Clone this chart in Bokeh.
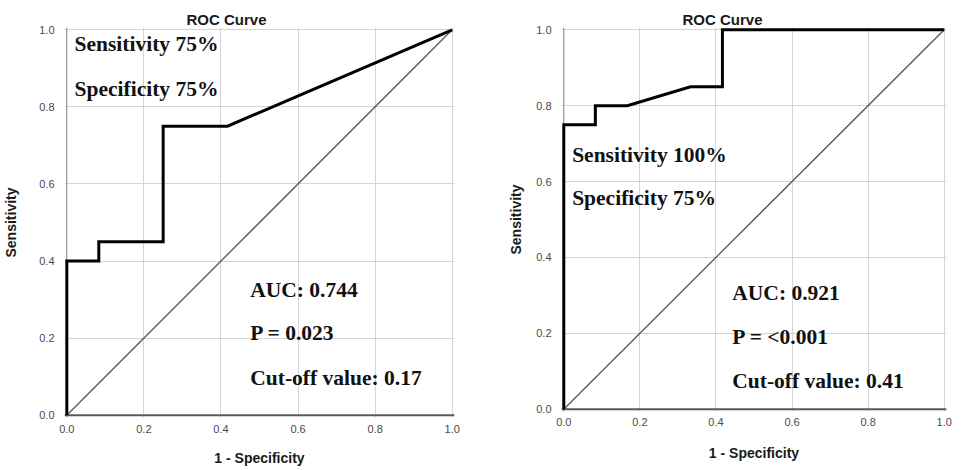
from bokeh.plotting import figure
from bokeh.layouts import row
from bokeh.models import Label, FixedTicker, PrintfTickFormatter, Range1d, Span
from bokeh.embed import file_html
from bokeh.resources import INLINE

# ---- data ----
ticks = [0.0, 0.2, 0.4, 0.6, 0.8, 1.0]
tick_labels = ["0.0", "0.2", "0.4", "0.6", "0.8", "1.0"]

ref_x = [0.0, 1.0]
ref_y = [0.0, 1.0]

left_fpr = [0.0, 0.0, 0.083, 0.083, 0.25, 0.25, 0.417, 1.0]
left_tpr = [0.0, 0.40, 0.40, 0.45, 0.45, 0.75, 0.75, 1.0]

right_fpr = [0.0, 0.0, 0.083, 0.083, 0.167, 0.333, 0.417, 0.417, 1.0]
right_tpr = [0.0, 0.75, 0.75, 0.80, 0.80, 0.85, 0.85, 1.0, 1.0]

title_text = "ROC Curve"
x_title = "1 - Specificity"
y_title = "Sensitivity"

left_notes = ["Sensitivity 75%", "Specificity 75%", "AUC: 0.744", "P = 0.023", "Cut-off value: 0.17"]
right_notes = ["Sensitivity 100%", "Specificity 75%", "AUC: 0.921", "P = <0.001", "Cut-off value: 0.41"]

PAD = 0.006


def make_panel(fpr, tpr, notes, note_pos, frame_w, frame_h, borders,
               title_offset, xt_stand, xl_stand, yt_stand, yl_stand):
    bl, br, bt, bb = borders
    p = figure(frame_width=frame_w, frame_height=frame_h,
               x_range=Range1d(-PAD, 1 + PAD), y_range=Range1d(-PAD, 1 + PAD),
               output_backend="svg", toolbar_location=None,
               min_border_left=bl, min_border_right=br,
               min_border_top=bt, min_border_bottom=bb)
    p.outline_line_color = None
    p.background_fill_color = "white"
    p.border_fill_color = "white"

    p.title.text = title_text
    p.title.align = "left"
    p.title.offset = title_offset
    p.title.standoff = 0
    p.title.text_font = "Liberation Sans"
    p.title.text_font_size = "15px"
    p.title.text_font_style = "bold"
    p.title.text_color = "#1a1a1a"

    overrides = {t: l for t, l in zip(ticks, tick_labels)}
    for ax in (p.xaxis[0], p.yaxis[0]):
        ax.ticker = FixedTicker(ticks=ticks)
        ax.formatter = PrintfTickFormatter(format="%.1f")
        ax.major_label_overrides = overrides
        ax.axis_line_color = None
        ax.major_tick_line_color = None
        ax.minor_tick_line_color = None
        ax.major_label_text_font = "Liberation Sans"
        ax.major_label_text_font_size = "11px"
        ax.major_label_text_color = "#4a4a4a"
        ax.axis_label_text_font = "Liberation Sans"
        ax.axis_label_text_font_size = "14px"
        ax.axis_label_text_font_style = "bold"
        ax.axis_label_text_color = "#1a1a1a"

    p.xaxis.axis_label = x_title
    p.yaxis.axis_label = y_title
    p.xaxis.major_label_standoff = xt_stand
    p.xaxis.axis_label_standoff = xl_stand
    p.yaxis.major_label_standoff = yt_stand
    p.yaxis.axis_label_standoff = yl_stand

    p.xgrid.ticker = FixedTicker(ticks=ticks)
    p.ygrid.ticker = FixedTicker(ticks=ticks)
    p.grid.grid_line_color = "#d4d4d4"
    p.grid.grid_line_width = 1

    p.add_layout(Span(location=0, dimension="height", line_color="#8a8a8a",
                      line_width=1, level="underlay"))
    p.add_layout(Span(location=0, dimension="width", line_color="#5a5a5a",
                      line_width=2, level="underlay"))

    p.line(ref_x, ref_y, line_color="#555555", line_width=1.3)
    p.line(fpr, tpr, line_color="black", line_width=3, line_join="miter")

    for txt, (x, y) in zip(notes, note_pos):
        p.add_layout(Label(x=x, y=y, y_offset=8, text=txt, text_font="Liberation Serif",
                           text_font_style="bold", text_font_size="21.5px",
                           text_baseline="alphabetic", text_color="#111111"))
    return p


left_pos = [(0.02, 0.942), (0.02, 0.825), (0.476, 0.305), (0.476, 0.193), (0.476, 0.076)]
right_pos = [(0.022, 0.649), (0.022, 0.535), (0.443, 0.284), (0.443, 0.170), (0.443, 0.054)]

p1 = make_panel(left_fpr, left_tpr, left_notes, left_pos,
                frame_w=390, frame_h=390, borders=(56, 26, 27, 45),
                title_offset=122, xt_stand=1, xl_stand=14, yt_stand=4, yl_stand=17)
p2 = make_panel(right_fpr, right_tpr, right_notes, right_pos,
                frame_w=385, frame_h=384, borders=(81, 7, 26, 52),
                title_offset=121, xt_stand=0, xl_stand=16, yt_stand=4, yl_stand=9)

layout = row(p1, p2)
open("out.html", "w").write(file_html(layout, INLINE))
